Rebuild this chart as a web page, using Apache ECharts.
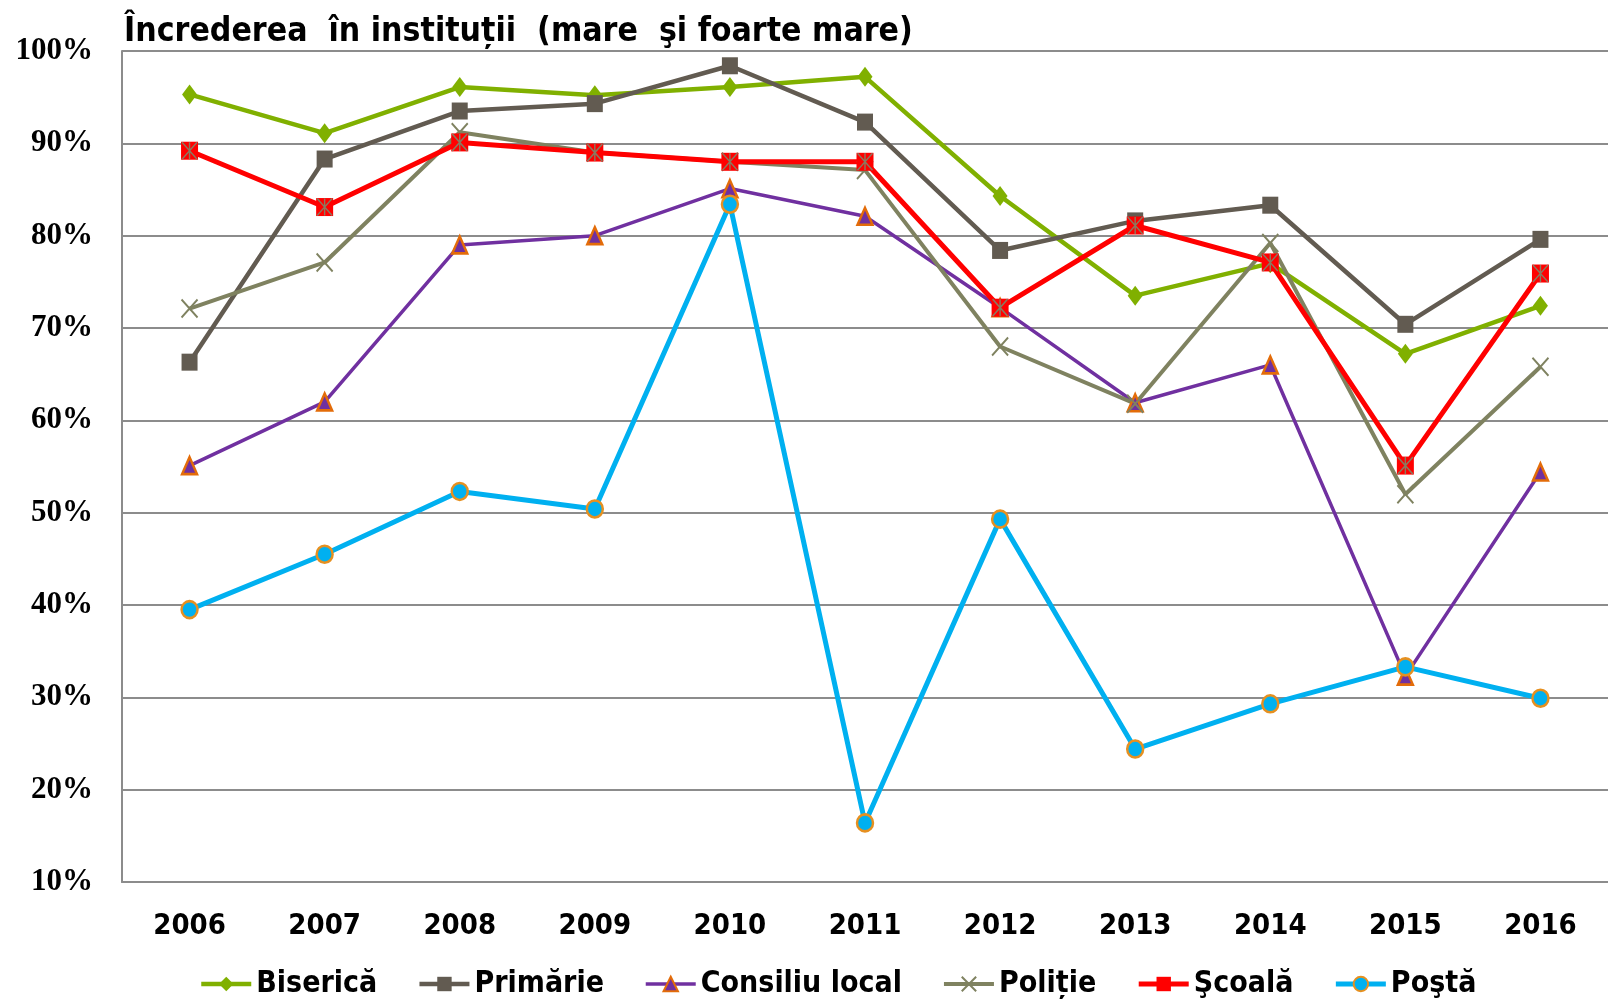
<!DOCTYPE html>
<html>
<head>
<meta charset="utf-8">
<title>Încrederea în instituții</title>
<script src="https://cdn.jsdelivr.net/npm/echarts@6/dist/echarts.min.js"></script>
<style>
  html, body { margin: 0; padding: 0; background: #ffffff; }
  #chart { width: 1608px; height: 999px; }
</style>
</head>
<body>
<div id="chart"></div>
<script>
// Survey years
const years = ['2006', '2007', '2008', '2009', '2010', '2011', '2012', '2013', '2014', '2015', '2016'];

// Share of respondents with high and very high trust (%)
const biserica = [95.3, 91.1, 96.1, 95.2, 96.1, 97.2, 84.3, 73.5, 77.0, 67.2, 72.4];
const primarie = [66.3, 88.3, 93.5, 94.3, 98.4, 92.3, 78.4, 81.6, 83.3, 70.4, 79.6];
const consiliuLocal = [55.1, 62.0, 79.0, 80.0, 85.1, 82.1, 72.2, 61.9, 66.0, 32.3, 54.4];
const politie = [72.1, 77.1, 91.2, 89.0, 88.0, 87.1, 68.0, 61.8, 79.2, 52.0, 65.8];
const scoala = [89.2, 83.1, 90.1, 89.0, 88.0, 88.0, 72.2, 81.1, 77.1, 55.1, 75.9];
const posta = [39.5, 45.5, 52.3, 50.4, 83.4, 16.4, 49.3, 24.4, 29.3, 33.3, 29.9];

// Tick labels of the value axis
const yTicks = [10, 20, 30, 40, 50, 60, 70, 80, 90, 100];

const seriesNames = ['Biserică', 'Primărie', 'Consiliu local', 'Poliție', 'Şcoală', 'Poştă'];

const sansFont = '"DejaVu Sans Condensed", "DejaVu Sans", sans-serif';
const crossPath = 'path://M0,0L10,10M10,0L0,10';
const starPath = 'path://M0,0L10,10M10,0L0,10M5,0L5,10';

const chart = echarts.init(document.getElementById('chart'), null, { renderer: 'canvas' });

function lineSeries(name, data, color, width, symbol, size, item) {
  return {
    name: name,
    type: 'line',
    data: data,
    symbol: symbol,
    symbolSize: size,
    showAllSymbol: true,
    lineStyle: { color: color, width: width },
    itemStyle: Object.assign({ color: color }, item || {}),
    emphasis: { disabled: true },
    animation: false
  };
}

const option = {
  backgroundColor: '#ffffff',
  animation: false,
  title: {
    text: 'Încrederea  în instituții  (mare  şi foarte mare)',
    left: 119,
    top: 10,
    textStyle: {
      fontFamily: sansFont,
      fontWeight: 'bold',
      fontSize: 33.5,
      color: '#000000'
    }
  },
  grid: { left: 122, right: 0, top: 51, bottom: 117, containLabel: false },
  legend: {
    data: seriesNames,
    left: 194,
    top: 964,
    itemWidth: 50,
    itemHeight: 18,
    itemGap: 40,
    lineStyle: { width: 'inherit' },
    textStyle: {
      fontFamily: sansFont,
      fontWeight: 'bold',
      fontSize: 30,
      color: '#000000'
    }
  },
  xAxis: {
    type: 'category',
    data: years,
    boundaryGap: true,
    axisLine: { show: true, lineStyle: { color: '#8c8c8c', width: 2 } },
    axisTick: { show: false },
    axisLabel: {
      margin: 30,
      fontFamily: sansFont,
      fontWeight: 'bold',
      fontSize: 29,
      color: '#000000'
    },
    splitLine: { show: false }
  },
  yAxis: {
    type: 'value',
    min: yTicks[0],
    max: yTicks[yTicks.length - 1],
    interval: 10,
    axisLine: { show: true, lineStyle: { color: '#8c8c8c', width: 2 } },
    axisTick: { show: false },
    axisLabel: {
      margin: 29,
      formatter: '{value}%',
      fontFamily: '"Liberation Serif", "Times New Roman", serif',
      fontWeight: 'bold',
      fontSize: 31,
      color: '#000000'
    },
    splitLine: { show: true, lineStyle: { color: '#8c8c8c', width: 2 } }
  },
  series: [
    lineSeries('Biserică', biserica, '#80b000', 4.5, 'diamond', [15, 20]),
    lineSeries('Primărie', primarie, '#625b51', 4.5, 'rect', [16, 17]),
    lineSeries('Consiliu local', consiliuLocal, '#7030a0', 3.5, 'triangle', [15, 17],
      { borderColor: '#e36c09', borderWidth: 2.5 }),
    lineSeries('Poliție', politie, '#7f8260', 4, crossPath, [16, 18],
      { color: 'rgba(0,0,0,0)', borderColor: '#7f8260', borderWidth: 2 }),
    lineSeries('Şcoală', scoala, '#ff0000', 5, 'rect', [17, 18]),
    {
      // grey star strokes laid over the red square markers of the Şcoală line
      name: 'Şcoală-marker',
      type: 'line',
      data: scoala,
      symbol: starPath,
      symbolSize: [15, 17],
      showAllSymbol: true,
      lineStyle: { width: 0, opacity: 0 },
      itemStyle: { color: 'rgba(0,0,0,0)', borderColor: '#8a7a60', borderWidth: 1.5 },
      emphasis: { disabled: true },
      silent: true,
      animation: false
    },
    lineSeries('Poştă', posta, '#00b0f0', 5, 'circle', [16, 17],
      { borderColor: '#e69020', borderWidth: 2.5 })
  ]
};

chart.setOption(option);
</script>
</body>
</html>
